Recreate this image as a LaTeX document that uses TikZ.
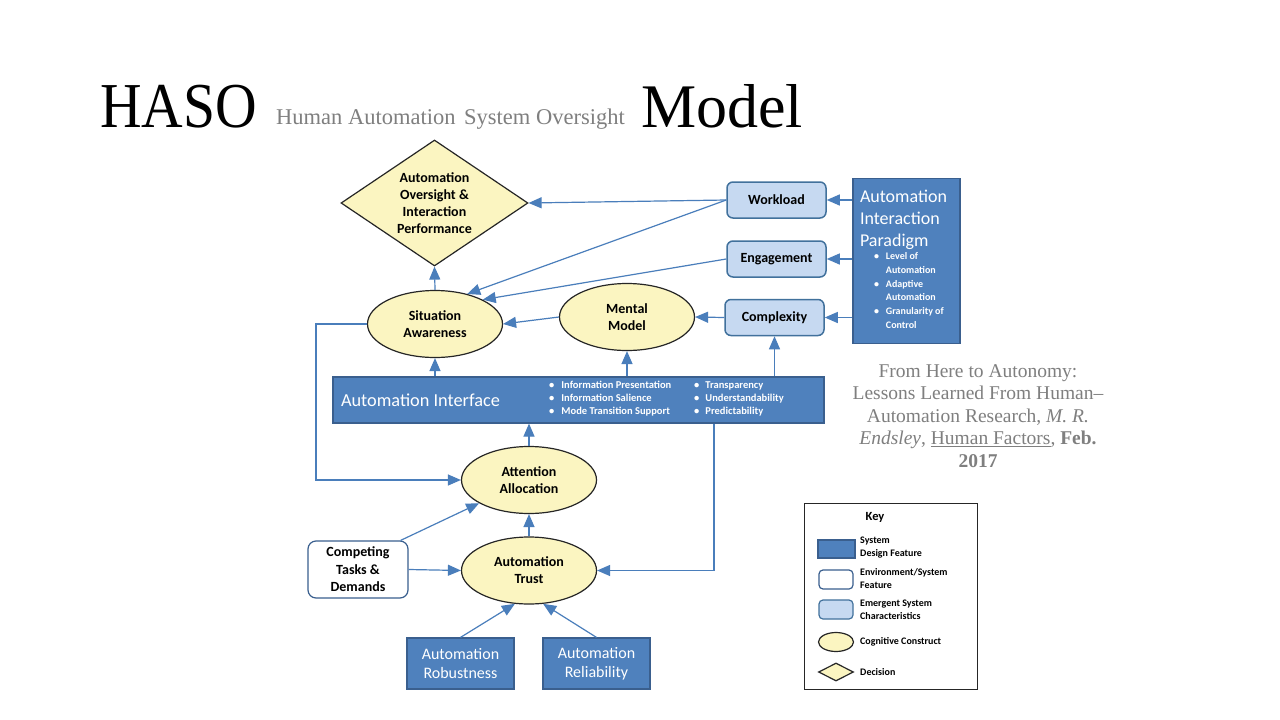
\documentclass[tikz,border=0pt]{standalone}
\usepackage{fontspec}
\setmainfont{Liberation Serif}
\newfontfamily\calib{Carlito}
\usetikzlibrary{shapes.geometric,arrows.meta}

\definecolor{sysblue}{HTML}{4F81BD}
\definecolor{sysline}{HTML}{3A5F8E}
\definecolor{emgblue}{HTML}{C6D9F1}
\definecolor{emgline}{HTML}{41719C}
\definecolor{cogyel}{HTML}{FBF5C1}
\definecolor{cogline}{HTML}{262626}
\definecolor{arrblue}{HTML}{4A7EBB}
\definecolor{txtgray}{HTML}{7F7F7F}

\tikzset{
  sysbox/.style={draw=sysline, fill=sysblue, line width=1.2pt, text=white,
    font={\calib\fontsize{16}{19.5}\selectfont}, align=center, inner sep=0},
  envbox/.style={draw=sysline, fill=white, line width=1.2pt, rounded corners=8pt,
    font={\calib\bfseries\fontsize{14}{17.5}\selectfont}, align=center, inner sep=0},
  emgbox/.style={draw=emgline, fill=emgblue, line width=1.5pt, rounded corners=6pt,
    font={\calib\bfseries\fontsize{14}{17}\selectfont}, align=center, inner sep=0,
    minimum width=99, minimum height=36},
  cogell/.style={ellipse, draw=cogline, fill=cogyel, line width=1.2pt,
    font={\calib\bfseries\fontsize{14}{17}\selectfont}, align=center, inner sep=0},
  decdia/.style={diamond, draw=cogline, fill=cogyel, line width=1.2pt, aspect=1.5,
    font={\calib\bfseries\fontsize{14}{17}\selectfont}, align=center, inner sep=0},
  keytext/.style={anchor=west, inner sep=0, align=left,
    font={\calib\bfseries\fontsize{10}{13}\selectfont}},
  conn/.style={draw=arrblue, line width=1.2pt, -{Triangle[length=13pt,width=11pt]}}
}

\begin{document}
\begin{tikzpicture}[x=1pt,y=-1pt]

  \fill[white] (0,0) rectangle (1280,720);
  \useasboundingbox (0,0) rectangle (1280,720);

  % title
  \node[anchor=base west, inner sep=0, font=\fontsize{64}{70}\selectfont] (haso) at (100,127) {\scalebox{0.9}[1]{HASO}};
  \node[anchor=base west, inner sep=0, text=txtgray, font=\fontsize{22.5}{26}\selectfont] (hasofull) at (276,124) {Human Automation\hspace{3pt} System Oversight};
  \node[anchor=base west, inner sep=0, font=\fontsize{62}{70}\selectfont] (model) at (641,127) {Model};

  % decision and cognitive constructs
  \node[decdia, minimum width=187, minimum height=126] (aop) at (434.5,203) {Automation\\Oversight \&\\Interaction\\Performance};
  \begin{scope}[every node/.style={cogell, minimum width=135, minimum height=67}]
    \node (sa) at (435,324) {Situation\\Awareness};
    \node (mm) at (627,317) {Mental\\Model};
    \node (aa) at (529,480) {Attention\\Allocation};
    \node (at) at (529,570.5) {Automation\\Trust};
  \end{scope}

  % emergent system characteristics
  \begin{scope}[every node/.style={emgbox}]
    \node (wl)  at (776.5,200) {Workload};
    \node (eng) at (776.5,259) {Engagement};
    \node (cx)  at (774.5,317.5) {Complexity};
  \end{scope}

  % system design features
  \node[sysbox, minimum width=107, minimum height=165, text width=93, align=left, inner xsep=7, anchor=north] (aip) at (906.5,178)
    {\spaceskip=0pt\xspaceskip=0pt
     {\fontsize{18}{22}\selectfont Automation\\Interaction\\Paradigm\par}
     {\fontsize{10}{13.7}\selectfont\bfseries\hspace*{14pt}\begin{tabular}{@{}l@{\hspace{7pt}}l@{}}
      \textbullet & Level of\\ & Automation\\
      \textbullet & Adaptive\\ & Automation\\
      \textbullet & Granularity of\\ & Control\end{tabular}\par}};
  \node[sysbox, minimum width=491, minimum height=46, text width=475, align=left, inner xsep=8,
    font={\calib\fontsize{18.3}{22}\selectfont}] (ai) at (578.5,400) {\spaceskip=0pt Automation Interface};
  \begin{scope}[every node/.style={anchor=west, inner sep=0, text=white,
      font={\calib\bfseries\fontsize{10.5}{13}\selectfont}}]
    \node (aileft) at (549,399) {\begin{tabular}{@{}l@{\hspace{7pt}}l@{}}
      \textbullet & Information Presentation\\
      \textbullet & Information Salience\\
      \textbullet & Mode Transition Support\end{tabular}};
    \node (airight) at (694,399) {\begin{tabular}{@{}l@{\hspace{6pt}}l@{}}
      \textbullet & Transparency\\
      \textbullet & Understandability\\
      \textbullet & Predictability\end{tabular}};
  \end{scope}
  \begin{scope}[every node/.style={sysbox, minimum width=107, minimum height=51}]
    \node (rob) at (460.5,663.5) {Automation\\Robustness};
    \node (rel) at (596.5,663.5) {Automation\\Reliability};
  \end{scope}

  % environment
  \node[envbox, minimum width=100, minimum height=57] (ct) at (358,569.5) {Competing\\Tasks \&\\Demands};

  % connectors
  \begin{scope}[every edge/.style={conn}]
    \path (wl.west) edge (aop.east);
    \path (wl.west) edge (sa.43);
    \path (eng.west) edge (sa.27);
    \path (mm.west) edge (sa.east);
    \path (cx.west) edge (mm.east);
    \path (aip.west |- wl.east) edge (wl.east);
    \path (aip.west |- eng.east) edge (eng.east);
    \path (aip.west |- cx.east) edge (cx.east);
    \path (sa.north) edge (aop.south);
    \path (ai.north -| sa.south) edge (sa.south);
    \path (ai.north -| mm.south) edge (mm.south);
    \path (ai.north -| cx.south) edge (cx.south);
    \path (aa.north) edge (ai.south -| aa.north);
    \path (at.north) edge (aa.south);
    \path ([xshift=-8pt]ct.north east) edge (aa.205);
    \path (ct.east) edge (at.west);
    \path (rob.north) edge (at.247);
    \path (rel.north) edge (at.293);
    \path (sa.west) edge[to path={-- ++(-51,0) |- (\tikztotarget)}] (aa.west);
    \path ([xshift=135.5pt]ai.south) edge[to path={|- (\tikztotarget)}] (at.east);
  \end{scope}

  % source
  \node[anchor=north, inner sep=0, align=center, text=txtgray, font=\fontsize{19.5}{22.5}\selectfont] (cite) at (978,364)
    {From Here to Autonomy:\\Lessons Learned From Human--\\Automation Research, \textit{M. R.}\\
     \textit{Endsley}, \underline{Human Factors}, \textbf{Feb.}\\\textbf{2017}};

  % key
  \node[draw=cogline, fill=white, line width=1pt, minimum width=173, minimum height=186, inner sep=0] (key) at (890.5,596) {};
  \node[inner sep=0, font={\calib\bfseries\fontsize{12.5}{14}\selectfont}] (keytitle) at (875,517) {Key};
  \node[sysbox, minimum width=37, minimum height=18] (keysys) at (836.5,549) {};
  \node[envbox, rounded corners=4pt, minimum width=34, minimum height=19] (keyenv) at (836,579.5) {};
  \node[emgbox, rounded corners=4pt, line width=1.2pt, minimum width=34, minimum height=19] (keyemg) at (836,609.5) {};
  \node[cogell, minimum width=35, minimum height=19] (keycog) at (836,642) {};
  \node[decdia, minimum width=35, minimum height=18] (keydec) at (836,672) {};
  \node[keytext] (keysyst) at (860,548) {System\\Design Feature};
  \node[keytext] (keyenvt) at (860,579) {Environment/System\\Feature};
  \node[keytext] (keyemgt) at (860,610) {Emergent System\\Characteristics};
  \node[keytext] (keycogt) at (860,642) {Cognitive Construct};
  \node[keytext] (keydect) at (860,672) {Decision};

\end{tikzpicture}
\end{document}
